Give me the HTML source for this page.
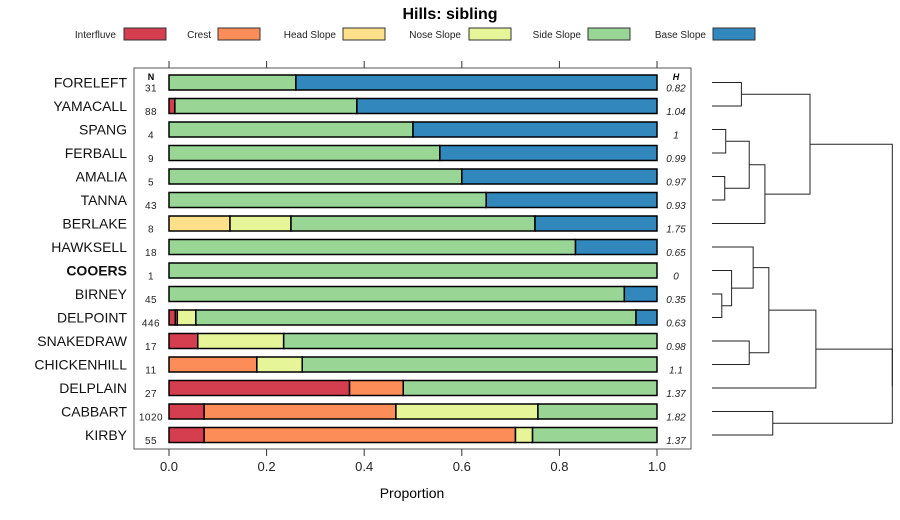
<!DOCTYPE html>
<html><head><meta charset="utf-8"><style>
body{margin:0;background:#fff}
svg{display:block;font-family:"Liberation Sans",sans-serif}
</style></head><body>
<svg id="chart" width="900" height="520">
<text x="450" y="19" text-anchor="middle" font-size="16" font-weight="bold">Hills: sibling</text>
<g id="legend"></g>
<rect x="134" y="68" width="557" height="381" fill="none" stroke="#555" stroke-width="1"/>
<g id="axis"></g>
<g id="bars"></g>
<g id="dendro"></g>
<text x="412" y="498" text-anchor="middle" font-size="14">Proportion</text>
</svg>
<script>
const classes=["Interfluve","Crest","Head Slope","Nose Slope","Side Slope","Base Slope"];
const colors=["#D53E4F","#FC8D59","#FEE08B","#E6F598","#99D594","#3288BD"];
const series=["FORELEFT","YAMACALL","SPANG","FERBALL","AMALIA","TANNA","BERLAKE","HAWKSELL","COOERS","BIRNEY","DELPOINT","SNAKEDRAW","CHICKENHILL","DELPLAIN","CABBART","KIRBY"];
const nValues=[31,88,4,9,5,43,8,18,1,45,446,17,11,27,1020,55];
const hValues=["0.82","1.04","1","0.99","0.97","0.93","1.75","0.65","0","0.35","0.63","0.98","1.1","1.37","1.82","1.37"];
const interfluve=[0,0.012,0,0,0,0,0,0,0,0,0.013,0.059,0,0.37,0.072,0.072];
const crest=[0,0,0,0,0,0,0,0,0,0,0.004,0,0.18,0.11,0.393,0.638];
const headSlope=[0,0,0,0,0,0,0.125,0,0,0,0,0,0,0,0,0];
const noseSlope=[0,0,0,0,0,0,0.125,0,0,0,0.038,0.176,0.093,0,0.291,0.035];
const sideSlope=[0.26,0.373,0.5,0.555,0.6,0.65,0.5,0.833,1,0.933,0.902,0.765,0.727,0.52,0.244,0.255];
const baseSlope=[0.74,0.615,0.5,0.445,0.4,0.35,0.25,0.167,0,0.067,0.043,0,0,0,0,0];
const ticks=[0,0.2,0.4,0.6,0.8,1.0];
const tickLabels=["0.0","0.2","0.4","0.6","0.8","1.0"];
// dendrogram merges: [leftNode,rightNode,height]; leaves are 0..15, merges numbered 16+
const merges=[[0,1,0.15],[2,3,0.07],[4,5,0.065],[17,18,0.19],[19,6,0.27],[16,20,0.5],[9,10,0.05],[8,22,0.10],[7,23,0.21],[11,12,0.19],[24,25,0.29],[26,13,0.53],[14,15,0.31],[27,28,0.92],[21,29,0.92]];
</script>
<script>
const NS="http://www.w3.org/2000/svg";
function mk(t,a,p){const e=document.createElementNS(NS,t);for(const k in a)e.setAttribute(k,a[k]);p.appendChild(e);return e;}
const x0=169,x1=657;
const xs=v=>x0+v*(x1-x0);
const ys=i=>82.5+i*23.5;
// legend
const lg=document.getElementById('legend');
const lpos=[[116,124],[211,218],[336,343],[461,469],[581,588],[706,713]];
classes.forEach((c,i)=>{
  const t=mk('text',{x:lpos[i][0],y:38,'text-anchor':'end','font-size':10,fill:'#222'},lg);t.textContent=c;
  
  
  const r=mk('rect',{x:lpos[i][1],y:28,width:42,height:12,fill:colors[i],stroke:'#333','stroke-width':1},lg);
  
  
});
// axis
const ax=document.getElementById('axis');
ticks.forEach((v,i)=>{
  const l=mk('line',{x1:xs(v),x2:xs(v),y1:449,y2:456,stroke:'#333'},ax);
  
  
  const l2=mk('line',{x1:xs(v),x2:xs(v),y1:61,y2:68,stroke:'#333'},ax);
  
  
  const t=mk('text',{x:xs(v),y:471,'text-anchor':'middle','font-size':13,fill:'#222'},ax);t.textContent=tickLabels[i];
  
  
});
// bars
const bg=document.getElementById('bars');
const parts=[interfluve,crest,headSlope,noseSlope,sideSlope,baseSlope];
let t=mk('text',{x:151,y:80,'text-anchor':'middle','font-size':9,'font-weight':'bold'},bg);t.textContent='N';

t=mk('text',{x:676,y:80,'text-anchor':'middle','font-size':9,'font-weight':'bold','font-style':'italic'},bg);t.textContent='H';

series.forEach((s,i)=>{
  const y=ys(i);
  const lab=mk('text',{x:127,y:y+5,'text-anchor':'end','font-size':14,fill:'#111','font-weight':s==='COOERS'?'bold':'normal'},bg);lab.textContent=s;
  
  
  const n=mk('text',{x:151,y:y+9,'text-anchor':'middle','font-size':10,fill:'#222','letter-spacing':'0.5'},bg);n.textContent=nValues[i];
  
  
  const h=mk('text',{x:676,y:y+9,'text-anchor':'middle','font-size':10,'font-style':'italic',fill:'#222'},bg);h.textContent=hValues[i];
  
  
  let cum=0;
  parts.forEach((arr,k)=>{
    const v=arr[i];if(v<=0)return;
    const r=mk('rect',{x:xs(cum),y:y-7.5,width:xs(cum+v)-xs(cum),height:15,fill:colors[k],stroke:'#000','stroke-width':1.5},bg);
    
    
    cum+=v;
  });
});
// dendrogram
const dg=document.getElementById('dendro');
const dx0=712,dscale=196;
const dxs=h=>dx0+h*dscale;
const nodes=series.map((s,i)=>({y:ys(i),h:0}));
merges.forEach(m=>{
  const a=nodes[m[0]],b=nodes[m[1]],hx=dxs(m[2]);
  const p=mk('path',{d:`M${dxs(a.h)},${a.y}H${hx}V${b.y}H${dxs(b.h)}`,fill:'none',stroke:'#222','stroke-width':1},dg);
  
  
  nodes.push({y:(a.y+b.y)/2,h:m[2]});
});
</script>
</body></html>
